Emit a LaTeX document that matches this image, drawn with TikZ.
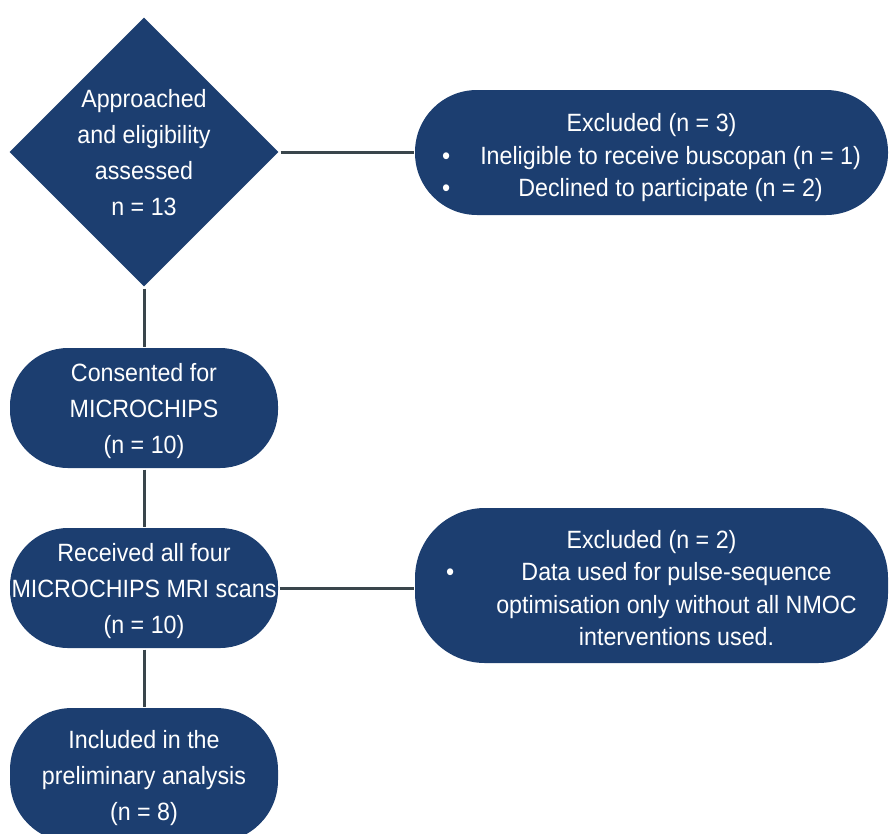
\documentclass[tikz,border=0pt]{standalone}
\usepackage{fontspec}
\setmainfont{Liberation Sans}[FakeStretch=0.93]
\usetikzlibrary{shapes.geometric}
\definecolor{boxBlue}{RGB}{28,62,112}
\definecolor{linkGray}{RGB}{58,70,76}
\tikzset{
    every picture/.style={
        line width=3pt
    },
    % Style for the rounded boxes
    flow box/.style={
        fill=boxBlue,
        text=white,
        font=\fontsize{25}{36}\selectfont,
        align=center,
        text depth=0pt,
        inner sep=0pt
    },
    side box/.style={
        flow box,
        text depth={},
        font=\fontsize{25}{32.5}\selectfont,
        minimum width=473
    },
    decision box/.style={
        flow box,
        diamond,
        minimum width=270,
        minimum height=270
    },
    link/.style={draw=linkGray}
}
% taller first row, pushes the side texts down a little
\newcommand{\topstrut}{\rule{0pt}{33pt}}

\begin{document}
\begin{tikzpicture}[x=1pt,y=-1pt]

% Set the canvas size
\path[use as bounding box] (0,0) rectangle (890,833);

% Left column
\node[decision box] (approached) at (144,152)
    {Approached\\and eligibility\\assessed\\n = 13};

\node[flow box, minimum width=268, minimum height=120, rounded corners=58] (consented) at (144,408)
    {Consented for\\MICROCHIPS\\(n = 10)};

\node[flow box, minimum width=268, minimum height=120, rounded corners=58] (received) at (144,588)
    {Received all four\\MICROCHIPS MRI scans\\(n = 10)};

\node[flow box, minimum width=268, minimum height=134, rounded corners=62] (included) at (144,775)
    {Included in the\\preliminary analysis\\(n = 8)};

% Right column
\node[side box, minimum height=125, rounded corners=62] (excludedA) at (651.5,152.5)
    {\begin{tabular}{@{}l@{\hspace{30pt}}c@{}}
     \multicolumn{2}{c}{\topstrut Excluded (n = 3)}\\
     \textbullet & Ineligible to receive buscopan (n = 1)\\
     \textbullet & Declined to participate (n = 2)
     \end{tabular}};

\node[side box, minimum height=155, rounded corners=70] (excludedB) at (651.5,585.5)
    {\begin{tabular}{@{}l@{\hspace{42pt}}c@{}}
     \multicolumn{2}{c}{\topstrut Excluded (n = 2)}\\
     \textbullet & Data used for pulse-sequence\\
                 & optimisation only without all NMOC\\
                 & interventions used.
     \end{tabular}};

%connectors
\draw[link] (approached.south) -- (consented.north);
\draw[link] (consented.south) -- (received.north);
\draw[link] (received.south) -- (included.north);
\draw[link] (approached.east) -- (approached.east -| excludedA.west);
\draw[link] (received.east) -- (received.east -| excludedB.west);

\end{tikzpicture}
\end{document}
